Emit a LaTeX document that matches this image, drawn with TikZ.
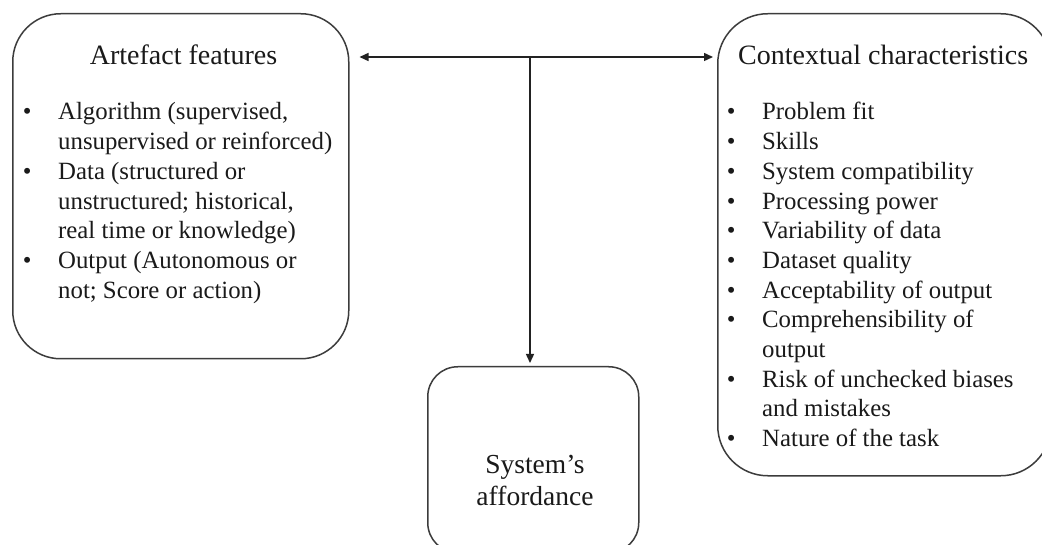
\documentclass[tikz,border=0pt]{standalone}
\usepackage{fontspec}
\setmainfont{Liberation Serif}
\usetikzlibrary{arrows.meta}
\definecolor{boxcol}{HTML}{3C3C3C}
\definecolor{arrcol}{HTML}{222222}
\definecolor{txtcol}{HTML}{1A1A1A}
\newcommand\blt{\makebox[35.3pt][l]{\textbullet}}
\begin{document}
\begin{tikzpicture}[x=1pt,y=-1pt,
  box/.style={draw=boxcol, line width=1.5pt, inner sep=0pt, anchor=north west},
  titlefont/.style={font=\fontsize{28}{32}\selectfont, text=txtcol, inner sep=0pt},
  bodyfont/.style={font=\fontsize{24.8}{29.7}\selectfont, text=txtcol, inner sep=0pt},
  conn/.style={draw=arrcol, line width=1.4pt, >={Triangle[length=9pt,width=8pt]}}]
\useasboundingbox (0,0) rectangle (1042,545);
\fill[white] (0,0) rectangle (1042,545);

% boxes
\node[box, rounded corners=48pt, minimum width=336pt, minimum height=345pt] (L) at (12,13) {};
\node[box, rounded corners=50pt, minimum width=333pt, minimum height=462pt] (R) at (717,13) {};
\node[box, rounded corners=30pt, minimum width=211pt, minimum height=186pt] (S) at (427,366) {};

% titles
\node[titlefont, anchor=base] (Lt) at (183.5,65) {Artefact features};
\node[titlefont, anchor=base west] (Rt) at (738,65) {Contextual characteristics};
\node[titlefont, font=\fontsize{27.5}{32}\selectfont, anchor=base] (St) at (535,473)
  {\begin{tabular}[t]{@{}c@{}}System’s\\affordance\end{tabular}};

% lists
\node[bodyfont, anchor=base west] (Ll) at (22.7,120) {\begin{tabular}[t]{@{}l@{}l@{}}
\blt & Algorithm (supervised,\\
     & unsupervised or reinforced)\\
\blt & Data (structured or\\
     & unstructured; historical,\\
     & real time or knowledge)\\
\blt & Output (Autonomous or\\
     & not; Score or action)
\end{tabular}};

\node[bodyfont, anchor=base west] (Rl) at (726.7,120) {\begin{tabular}[t]{@{}l@{}l@{}}
\blt & Problem fit\\
\blt & Skills\\
\blt & System compatibility\\
\blt & Processing power\\
\blt & Variability of data\\
\blt & Dataset quality\\
\blt & Acceptability of output\\
\blt & Comprehensibility of\\
     & output\\
\blt & Risk of unchecked biases\\
     & and mistakes\\
\blt & Nature of the task
\end{tabular}};

% connectors
\coordinate (hm) at (530,57);
\draw[conn, <->, shorten <=10pt, shorten >=4pt] (L.east |- hm) -- (R.west |- hm);
\draw[conn, ->, shorten >=3pt] (hm) -- (hm |- S.north);
\end{tikzpicture}
\end{document}
